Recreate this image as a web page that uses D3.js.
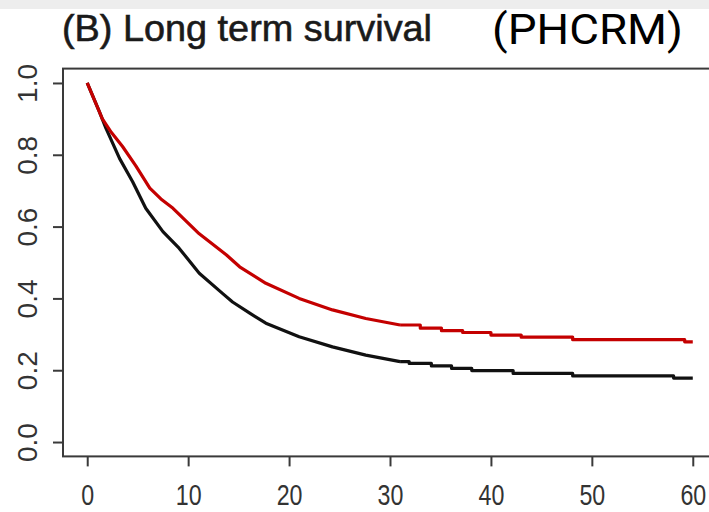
<!DOCTYPE html>
<html>
<head>
<meta charset="utf-8">
<script src="https://cdn.jsdelivr.net/npm/d3@7"></script>
<style>
  html, body { margin: 0; padding: 0; background: #fff; }
  svg { display: block; }
</style>
</head>
<body>
<svg id="chart" width="709" height="512"></svg>
<script>
// Kaplan–Meier survival estimates (months vs. proportion surviving).
// Smooth early phase, then the flat stepped tail.
const redTime  = [0, 1.5, 2.4, 3.5, 4.8, 6.2, 7.3, 8.5, 11.1, 13.8, 15.1, 17.7, 21.0, 24.3, 27.6, 31.0];
const redSurv  = [1.0, 0.90, 0.862, 0.823, 0.77, 0.707, 0.677, 0.651, 0.58, 0.521, 0.488, 0.442, 0.40, 0.368, 0.344, 0.326];
const redStepTime = [31.0, 33.0, 35.1, 37.2, 40.0, 43.0, 48.1, 59.2, 60];
const redStepSurv = [0.326, 0.317, 0.310, 0.305, 0.298, 0.292, 0.285, 0.279, 0.279];

const blackTime = [0, 1.2, 1.85, 3.2, 4.5, 5.8, 7.5, 9.1, 11.1, 13.4, 14.4, 16.1, 17.7, 21.0, 24.3, 27.6, 31.0];
const blackSurv = [1.0, 0.92, 0.874, 0.79, 0.725, 0.651, 0.586, 0.54, 0.47, 0.414, 0.39, 0.359, 0.331, 0.293, 0.265, 0.242, 0.224];
const blackStepTime = [31.0, 31.9, 34.1, 36.1, 38.1, 42.2, 48.1, 58.1, 60];
const blackStepSurv = [0.224, 0.219, 0.212, 0.205, 0.199, 0.191, 0.184, 0.178, 0.178];

const xTicks = [0, 10, 20, 30, 40, 50, 60];
const yTicks = [0, 0.2, 0.4, 0.6, 0.8, 1.0];
const titleText = "(B) Long term survival";
const tagText = "(PHCRM)";

const svg = d3.select("#chart");
const W = 709, H = 512;

// faint band along the top edge
svg.append("rect").attr("x", 0).attr("y", 0).attr("width", W).attr("height", 9).attr("fill", "#ededed");

// R-style plot region: data range padded by 4% on each side
const x = d3.scaleLinear().domain([-2.4, 62.4]).range([63, 717]);
const y = d3.scaleLinear().domain([-0.04, 1.04]).range([456.4, 68.6]);

const frameColor = "#3a3a3a";

// plot frame
svg.append("rect")
  .attr("x", x(-2.4)).attr("y", y(1.04))
  .attr("width", x(62.4) - x(-2.4)).attr("height", y(-0.04) - y(1.04))
  .attr("fill", "none").attr("stroke", frameColor).attr("stroke-width", 2);

// x axis
const xAxis = svg.append("g")
  .attr("transform", `translate(0,${y(-0.04)})`)
  .call(d3.axisBottom(x).tickValues(xTicks).tickSize(10).tickSizeOuter(0).tickPadding(0).tickFormat(d3.format("d")));
xAxis.select(".domain").remove();
xAxis.selectAll(".tick line").attr("stroke", frameColor).attr("stroke-width", 2);
xAxis.selectAll(".tick text").remove();
xAxis.selectAll(".tick").append("text")
  .attr("y", 49)
  .attr("text-anchor", "middle")
  .attr("transform", "scale(0.8,1)")
  .attr("fill", "#333")
  .style("font-family", "'Liberation Sans', Arial, sans-serif")
  .style("font-size", "29px")
  .text(d => d3.format("d")(d));

// y axis
const yAxis = svg.append("g")
  .attr("transform", `translate(${x(-2.4)},0)`)
  .call(d3.axisLeft(y).tickValues(yTicks).tickSize(10).tickSizeOuter(0).tickPadding(0));
yAxis.select(".domain").remove();
yAxis.selectAll(".tick line").attr("stroke", frameColor).attr("stroke-width", 2);
yAxis.selectAll(".tick text").remove();
yAxis.selectAll(".tick").append("text")
  .attr("transform", "translate(-26,0) rotate(-90)")
  .attr("text-anchor", "middle")
  .attr("fill", "#333")
  .style("font-family", "'Liberation Sans', Arial, sans-serif")
  .style("font-size", "28px")
  .text(d => d3.format(".1f")(d));

// survival curves
const smooth = d3.line().x(d => x(d[0])).y(d => y(d[1])).curve(d3.curveLinear);
const stepped = d3.line().x(d => x(d[0])).y(d => y(d[1])).curve(d3.curveStepAfter);

function drawSeries(times, surv, stepTimes, stepSurv, color) {
  const head = times.map((t, i) => [t, surv[i]]);
  const tail = stepTimes.map((t, i) => [t, stepSurv[i]]);
  const g = svg.append("g")
    .attr("fill", "none").attr("stroke", color)
    .attr("stroke-width", 3.2).attr("stroke-linejoin", "round").attr("stroke-linecap", "butt");
  g.append("path").attr("d", smooth(head));
  g.append("path").attr("d", stepped(tail));
}

drawSeries(blackTime, blackSurv, blackStepTime, blackStepSurv, "#111111");
drawSeries(redTime, redSurv, redStepTime, redStepSurv, "#c40000");

// headings
svg.append("text")
  .attr("x", 62).attr("y", 41)
  .attr("textLength", 370).attr("lengthAdjust", "spacingAndGlyphs")
  .attr("fill", "#1a1a1a")
  .attr("stroke", "#1a1a1a").attr("stroke-width", 0.6)
  .style("font-family", "'Liberation Sans', Arial, sans-serif")
  .style("font-size", "37px")
  .text(titleText);

svg.append("text")
  .attr("x", 492).attr("y", 44)
  .attr("textLength", 191).attr("lengthAdjust", "spacingAndGlyphs")
  .attr("fill", "#000")
  .style("font-family", "Roboto, 'Noto Sans', sans-serif")
  .style("font-size", "43px")
  .text(tagText);
</script>
</body>
</html>
